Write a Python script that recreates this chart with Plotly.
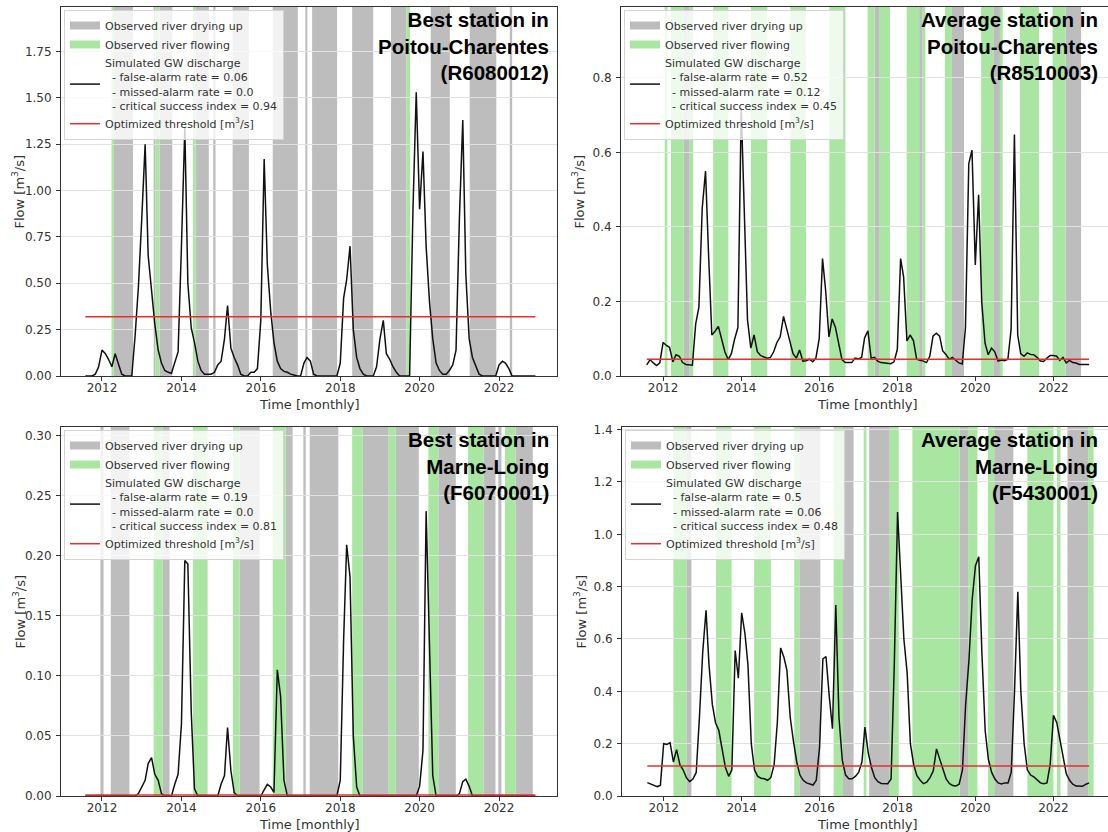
import pandas as pd
import plotly.graph_objects as go

# ---------------- data ----------------
start_month = "2011-08-01"

flow_tl = [0.0, 0.0, 0.0, 0.01, 0.05, 0.14, 0.12, 0.09, 0.05, 0.12,
           0.06, 0.01, 0.0, 0.0, 0.0, 0.22, 0.48, 0.85, 1.25, 0.65,
           0.45, 0.28, 0.14, 0.07, 0.03, 0.02, 0.015, 0.08, 0.13, 0.7,
           1.34, 0.5, 0.26, 0.18, 0.08, 0.03, 0.01, 0.01, 0.01, 0.02,
           0.06, 0.08, 0.2, 0.38, 0.15, 0.1, 0.06, 0.01, 0.0, 0.0,
           0.02, 0.02, 0.04, 0.3, 1.17, 0.6, 0.35, 0.18, 0.08, 0.04,
           0.025, 0.02, 0.01, 0.005, 0.0, 0.0, 0.07, 0.1, 0.08, 0.01,
           0.0, 0.0, 0.0, 0.0, 0.0, 0.0, 0.0, 0.07, 0.42, 0.52,
           0.70, 0.25, 0.1, 0.04, 0.01, 0.0, 0.0, 0.0, 0.05, 0.2,
           0.3, 0.12, 0.09, 0.05, 0.02, 0.0, 0.0, 0.0, 0.0, 0.9,
           1.53, 0.9, 1.21, 0.7, 0.4, 0.2, 0.07, 0.03, 0.01, 0.01,
           0.03, 0.06, 0.14, 0.85, 1.38, 0.55, 0.2, 0.1, 0.05, 0.01,
           0.0, 0.0, 0.0, 0.0, 0.0, 0.06, 0.08, 0.07, 0.04, 0.0,
           0.0, 0.0, 0.0, 0.0, 0.0, 0.0, 0.0]

flow_tr = [0.03, 0.044, 0.035, 0.028, 0.035, 0.09, 0.082, 0.077, 0.038, 0.057,
           0.053, 0.036, 0.031, 0.03, 0.029, 0.14, 0.185, 0.45, 0.55, 0.33,
           0.11, 0.12, 0.133, 0.1, 0.065, 0.044, 0.06, 0.1, 0.13, 0.72,
           0.45, 0.15, 0.075, 0.11, 0.065, 0.055, 0.051, 0.048, 0.05, 0.065,
           0.09, 0.105, 0.16, 0.13, 0.09, 0.06, 0.048, 0.07, 0.04, 0.041,
           0.045, 0.038, 0.048, 0.1, 0.315, 0.23, 0.105, 0.153, 0.13, 0.09,
           0.044, 0.036, 0.036, 0.036, 0.048, 0.046, 0.05, 0.103, 0.121, 0.048,
           0.05, 0.04, 0.036, 0.035, 0.034, 0.033, 0.038, 0.071, 0.315, 0.266,
           0.094, 0.11, 0.095, 0.045, 0.042, 0.04, 0.036, 0.053, 0.107, 0.115,
           0.107, 0.068, 0.058, 0.045, 0.05, 0.042, 0.035, 0.032, 0.13, 0.57,
           0.606, 0.298, 0.486, 0.2, 0.088, 0.057, 0.075, 0.065, 0.04, 0.043,
           0.041, 0.045, 0.125, 0.648, 0.11, 0.06, 0.053, 0.062, 0.058, 0.057,
           0.05, 0.04, 0.039, 0.048, 0.055, 0.055, 0.053, 0.042, 0.05, 0.035,
           0.042, 0.036, 0.035, 0.031, 0.03, 0.031, 0.031]

flow_bl = ([0.0] * 16 +
           [0.002, 0.008, 0.013, 0.027, 0.032, 0.018, 0.013, 0.002, 0.0, 0.0,
            0.0, 0.01, 0.018, 0.06, 0.196, 0.193, 0.07, 0.006, 0.0] +
           [0.0] * 6 +
           [0.01, 0.017, 0.057, 0.021, 0.003] +
           [0.0] * 8 +
           [0.005, 0.0097, 0.0075, 0.003, 0.105, 0.083, 0.013] +
           [0.0] * 16 +
           [0.013, 0.13, 0.209, 0.182, 0.05, 0.0075] +
           [0.0] * 18 +
           [0.008, 0.038, 0.237, 0.12, 0.017] +
           [0.0] * 7 +
           [0.002, 0.012, 0.014, 0.008] +
           [0.0] * 20)

flow_br = [0.051, 0.046, 0.04, 0.036, 0.04, 0.2, 0.197, 0.204, 0.13, 0.177,
           0.12, 0.1, 0.07, 0.055, 0.065, 0.09, 0.3, 0.55, 0.71, 0.5,
           0.35, 0.28, 0.25, 0.18, 0.11, 0.075, 0.1, 0.556, 0.45, 0.7,
           0.62, 0.5, 0.2, 0.1, 0.075, 0.068, 0.066, 0.06, 0.07, 0.12,
           0.28, 0.566, 0.53, 0.48, 0.3, 0.21, 0.13, 0.08, 0.06, 0.05,
           0.047, 0.042, 0.06, 0.187, 0.524, 0.533, 0.38, 0.257, 0.73, 0.3,
           0.136, 0.08, 0.066, 0.066, 0.075, 0.09, 0.13, 0.263, 0.165, 0.11,
           0.07, 0.055, 0.048, 0.047, 0.047, 0.065, 0.5, 1.085, 0.8, 0.6,
           0.47, 0.2, 0.12, 0.078, 0.06, 0.047, 0.053, 0.07, 0.095, 0.18,
           0.14, 0.1, 0.065, 0.048, 0.04, 0.038, 0.045, 0.1, 0.35, 0.52,
           0.75, 0.88, 0.914, 0.55, 0.25, 0.14, 0.09, 0.065, 0.05, 0.046,
           0.05, 0.05, 0.09, 0.4, 0.78, 0.4, 0.2, 0.1, 0.08, 0.073,
           0.062, 0.05, 0.047, 0.05, 0.12, 0.308, 0.28, 0.22, 0.16, 0.085,
           0.06, 0.045, 0.038, 0.037, 0.037, 0.045, 0.05]

threshold_tl = 0.32
threshold_tr = 0.045
threshold_bl = 0.0008
threshold_br = 0.115

# observation periods, decimal years [start, end]
dry_tl = [[2012.30, 2012.78], [2013.30, 2013.34], [2013.45, 2013.77], [2014.36, 2014.69],
          [2014.80, 2014.86], [2015.29, 2015.70], [2016.30, 2016.93], [2017.12, 2017.17],
          [2017.29, 2017.92], [2018.30, 2018.83], [2019.28, 2019.67], [2020.28, 2020.76],
          [2021.26, 2021.93], [2022.27, 2022.33]]
wet_tl = [[2012.24, 2012.30], [2013.34, 2013.45], [2014.29, 2014.36], [2019.67, 2019.76]]

dry_tr = [[2012.53, 2012.68], [2017.42, 2017.55], [2018.56, 2018.65], [2019.40, 2019.71],
          [2020.46, 2020.63], [2022.31, 2022.71]]
wet_tr = [[2012.04, 2012.11], [2012.20, 2012.53], [2012.68, 2012.77], [2013.28, 2013.67],
          [2014.25, 2014.67], [2015.26, 2015.66], [2016.26, 2016.67], [2017.24, 2017.42],
          [2017.55, 2017.81], [2018.24, 2018.56], [2018.65, 2018.72], [2019.22, 2019.40],
          [2020.15, 2020.46], [2020.63, 2020.70], [2021.14, 2021.63], [2021.98, 2022.31]]

dry_bl = [[2011.96, 2012.04], [2012.22, 2012.69], [2013.52, 2013.70], [2015.47, 2015.97],
          [2016.62, 2016.80], [2017.07, 2017.13], [2017.23, 2017.95], [2018.57, 2019.22],
          [2019.40, 2019.98], [2020.47, 2020.91], [2021.61, 2021.91], [2021.98, 2022.06],
          [2022.42, 2022.85]]
wet_bl = [[2013.30, 2013.52], [2014.29, 2014.66], [2015.30, 2015.47], [2016.30, 2016.62],
          [2018.30, 2018.57], [2019.22, 2019.40], [2020.22, 2020.47], [2021.22, 2021.61],
          [2022.15, 2022.42]]

dry_br = [[2012.58, 2012.71], [2015.48, 2016.02], [2016.60, 2016.87], [2017.27, 2017.80],
          [2018.63, 2018.66], [2018.70, 2018.73], [2018.82, 2018.85], [2019.59, 2019.81],
          [2020.48, 2020.97], [2022.36, 2022.89]]
wet_br = [[2012.25, 2012.58], [2013.34, 2013.74], [2014.32, 2014.75], [2015.35, 2015.48],
          [2016.36, 2016.60], [2017.13, 2017.20], [2017.80, 2018.03], [2018.38, 2019.59],
          [2019.81, 2020.05], [2020.32, 2020.48], [2021.33, 2022.00], [2022.09, 2022.18],
          [2022.89, 2023.03]]

titles = ["Best station in<br>Poitou-Charentes<br>(R6080012)",
          "Average station in<br>Poitou-Charentes<br>(R8510003)",
          "Best station in<br>Marne-Loing<br>(F6070001)",
          "Average station in<br>Marne-Loing<br>(F5430001)"]
far = ["0.06", "0.52", "0.19", "0.5"]
mar = ["0.0", "0.12", "0.0", "0.06"]
csi = ["0.94", "0.45", "0.81", "0.48"]
ymax = [1.99, 0.99, 0.307, 1.41]
ydtick = [0.25, 0.2, 0.05, 0.2]
yfmt = [".2f", ".1f", ".2f", ".1f"]

flows = [flow_tl, flow_tr, flow_bl, flow_br]
thresholds = [threshold_tl, threshold_tr, threshold_bl, threshold_br]
drys = [dry_tl, dry_tr, dry_bl, dry_br]
wets = [wet_tl, wet_tr, wet_bl, wet_br]

# ---------------- styling ----------------
W, H = 1108, 832
GREY = "#bdbdbd"
GREEN = "#a8e6a2"
BLACK = "#111111"
RED = "rgb(226,48,48)"
TXT = "#333333"
FONT = "DejaVu Sans"


def dec_to_ts(y):
    yr = int(y)
    a = pd.Timestamp(year=yr, month=1, day=1)
    b = pd.Timestamp(year=yr + 1, month=1, day=1)
    return a + (b - a) * (y - yr)


# panel pixel boxes: left, right, top, bottom
boxes = [(61, 557, 7, 376), (621, 1108, 7, 376), (61, 557, 427, 796), (622, 1108, 427, 796)]
xranges = [(2010.967, 2023.46), (2010.92, 2023.40), (2010.967, 2023.46), (2010.93, 2023.40)]

fig = go.Figure()
shapes = []
annotations = []
layout = {}

for k in range(4):
    n = "" if k == 0 else str(k + 1)
    xa, ya = "x" + n, "y" + n
    leg = "legend" + n
    L, R, T, B = boxes[k]
    right_panel = k in (1, 3)

    months = pd.date_range(start_month, periods=len(flows[k]), freq="MS")

    fig.add_trace(go.Scatter(x=[None], y=[None], mode="lines", xaxis=xa, yaxis=ya,
                             line=dict(color=GREY, width=8), name="Observed river drying up",
                             legend=leg, hoverinfo="skip"))
    fig.add_trace(go.Scatter(x=[None], y=[None], mode="lines", xaxis=xa, yaxis=ya,
                             line=dict(color=GREEN, width=8), name="Observed river flowing",
                             legend=leg, hoverinfo="skip"))
    label = ("Simulated GW discharge"
             "<br>\u00a0\u00a0- false-alarm rate = " + far[k] +
             "<br>\u00a0\u00a0- missed-alarm rate = " + mar[k] +
             "<br>\u00a0\u00a0- critical success index = " + csi[k])
    fig.add_trace(go.Scatter(x=months, y=flows[k], mode="lines", xaxis=xa, yaxis=ya,
                             line=dict(color=BLACK, width=1.5), name=label, legend=leg))
    fig.add_trace(go.Scatter(x=[months[0], months[-1]], y=[thresholds[k]] * 2, mode="lines",
                             xaxis=xa, yaxis=ya, line=dict(color=RED, width=1.5),
                             name="Optimized threshold [m<sup>3</sup>/s]", legend=leg))

    for s, e in drys[k]:
        shapes.append(dict(type="rect", xref=xa, yref=ya + " domain", x0=dec_to_ts(s), x1=dec_to_ts(e),
                           y0=0, y1=1, fillcolor=GREY, line=dict(width=0), layer="below"))
    for s, e in wets[k]:
        shapes.append(dict(type="rect", xref=xa, yref=ya + " domain", x0=dec_to_ts(s), x1=dec_to_ts(e),
                           y0=0, y1=1, fillcolor=GREEN, line=dict(width=0), layer="below"))

    layout["xaxis" + n] = dict(
        domain=[L / W, min(R / W, 1.0)], anchor=ya, type="date", automargin=False,
        range=[dec_to_ts(xranges[k][0]), dec_to_ts(xranges[k][1])],
        tickmode="linear", tick0="2012-01-01", dtick="M24", tickformat="%Y",
        ticks="outside", ticklen=4, tickcolor=TXT, ticklabelstandoff=-3,
        showline=True, linecolor=TXT, linewidth=1, mirror=True,
        showgrid=False, zeroline=False,
        tickfont=dict(family=FONT, size=12, color=TXT))
    layout["yaxis" + n] = dict(
        domain=[1 - B / H, 1 - T / H], anchor=xa, range=[0, ymax[k]], automargin=False,
        tickmode="linear", tick0=0, dtick=ydtick[k], tickformat=yfmt[k],
        ticks="outside", ticklen=4, tickcolor=TXT, ticklabelstandoff=2,
        showline=True, linecolor=TXT, linewidth=1, mirror=(not right_panel),
        showgrid=True, gridcolor="#e2e2e2", gridwidth=1, zeroline=False,
        tickfont=dict(family=FONT, size=12, color=TXT))
    layout[leg] = dict(
        x=(L + 3) / W, y=1 - (T + 3) / H, xanchor="left", yanchor="top",
        bgcolor="rgba(255,255,255,0.8)", bordercolor="#d4d4d4", borderwidth=1,
        font=dict(family=FONT, size=11, color=TXT), itemwidth=30,
        tracegroupgap=0, traceorder="normal")

    annotations.append(dict(
        text="<b>" + titles[k] + "</b>", xref="paper", yref="paper",
        x=(R - 6 if not right_panel else 1100) / W, y=1 - (T - 1) / H,
        xanchor="right", yanchor="top", align="right", showarrow=False,
        font=dict(family="Liberation Sans", size=20.5, color="#000000")))
    xcenter = (L + R) / 2 if not right_panel else 867
    annotations.append(dict(
        text="Time [monthly]", xref="paper", yref="paper", x=xcenter / W, y=1 - (B + 28) / H,
        xanchor="center", yanchor="middle", showarrow=False,
        font=dict(family=FONT, size=13, color=TXT)))
    annotations.append(dict(
        text="Flow [m<sup>3</sup>/s]", xref="paper", yref="paper", x=(L - 42) / W,
        y=1 - ((T + B) / 2) / H, xanchor="center", yanchor="middle", textangle=-90,
        showarrow=False, font=dict(family=FONT, size=13, color=TXT)))

fig.update_layout(width=W, height=H, margin=dict(l=0, r=0, t=0, b=0, autoexpand=False),
                  paper_bgcolor="white", plot_bgcolor="white",
                  shapes=shapes, annotations=annotations, **layout)

fig.write_html("out.html", config={"displayModeBar": False},
               post_script="document.body.style.margin='0px';document.body.style.overflow='hidden';")
